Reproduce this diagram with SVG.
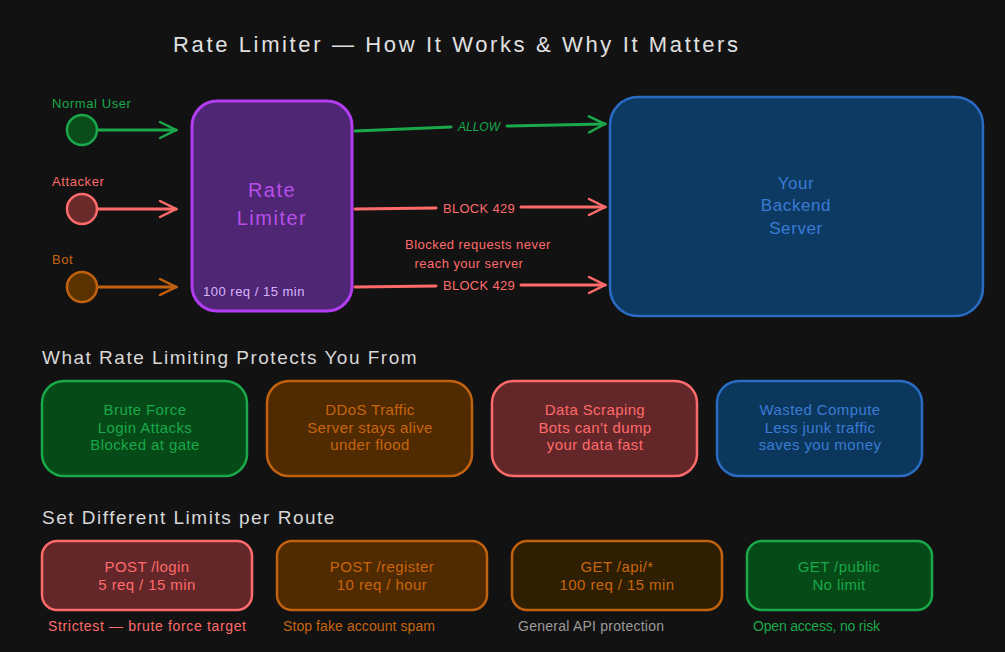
<svg xmlns="http://www.w3.org/2000/svg" width="1005" height="652" viewBox="0 0 1005 652">
<defs>
<style>
text{font-family:"Liberation Sans","DejaVu Sans",sans-serif;}
.t{font-size:15px;text-anchor:middle;letter-spacing:0.4px}
.g{fill:#1aa84a}.r{fill:#ff6b6b}.o{fill:#c8650f}.b{fill:#3a7bd5}.gr{fill:#9a9a9a}
.cg{fill:#054a17;stroke:#1aa84a;stroke-width:2.5}
.co{fill:#502a00;stroke:#c2620f;stroke-width:2.5}
.cr{fill:#632629;stroke:#ff6b6b;stroke-width:2.5}
.cb{fill:#0b375c;stroke:#2a6cc4;stroke-width:2.5}
.cy{fill:#2e1f02;stroke:#c2620f;stroke-width:2.5}
.ln{fill:none;stroke-width:3;stroke-linecap:round}
.hdr{font-size:19px;fill:#d8d8d8;letter-spacing:1.5px}
.cap{font-size:14px}
.lbl{font-size:13px;letter-spacing:0.6px}
</style>
<marker id="ag" viewBox="0 0 20 20" refX="18" refY="10" markerWidth="20" markerHeight="20" markerUnits="userSpaceOnUse" orient="auto"><path d="M2 2 L18 10 L2 18" fill="none" stroke="#1aa84a" stroke-width="2.5" stroke-linecap="round"/></marker>
<marker id="ar" viewBox="0 0 20 20" refX="18" refY="10" markerWidth="20" markerHeight="20" markerUnits="userSpaceOnUse" orient="auto"><path d="M2 2 L18 10 L2 18" fill="none" stroke="#ff6b6b" stroke-width="2.5" stroke-linecap="round"/></marker>
<marker id="ao" viewBox="0 0 20 20" refX="18" refY="10" markerWidth="20" markerHeight="20" markerUnits="userSpaceOnUse" orient="auto"><path d="M2 2 L18 10 L2 18" fill="none" stroke="#c2620f" stroke-width="2.5" stroke-linecap="round"/></marker>
</defs>
<rect width="1005" height="652" fill="#121212"/>
<text x="173" y="52" font-size="22" fill="#e0e0e0" textLength="565">Rate Limiter — How It Works &amp; Why It Matters</text>

<g id="connectors">
<line class="ln" x1="97" y1="130" x2="176" y2="130" stroke="#1aa84a" marker-end="url(#ag)"/>
<line class="ln" x1="97" y1="209" x2="176" y2="209" stroke="#ff6b6b" marker-end="url(#ar)"/>
<line class="ln" x1="97" y1="287" x2="176" y2="287" stroke="#c2620f" marker-end="url(#ao)"/>
<path class="ln" d="M355 131 L451 127 M507 126 L605 124" stroke="#1aa84a" marker-end="url(#ag)"/>
<text x="479" y="131" font-size="12" class="g" text-anchor="middle" font-style="italic">ALLOW</text>
<path class="ln" d="M355 209 L436 208 M521 207 L605 207" stroke="#ff6b6b" marker-end="url(#ar)"/>
<text x="479" y="213" font-size="13" class="r" text-anchor="middle" letter-spacing="0.3">BLOCK 429</text>
<path class="ln" d="M355 287 L436 286 M521 285 L605 285" stroke="#ff6b6b" marker-end="url(#ar)"/>
<text x="479" y="290" font-size="13" class="r" text-anchor="middle" letter-spacing="0.3">BLOCK 429</text>
<text x="478" y="249" font-size="13" class="r" text-anchor="middle" letter-spacing="0.45">Blocked requests never</text>
<text x="469" y="268" font-size="13" class="r" text-anchor="middle" letter-spacing="0.45">reach your server</text>
</g>

<g id="normal-user">
<text x="52" y="108" class="lbl g">Normal User</text>
<circle cx="82" cy="130" r="15" fill="#0b4d1a" stroke="#1aa84a" stroke-width="2.5"/>
</g>
<g id="attacker">
<text x="52" y="186" class="lbl r">Attacker</text>
<circle cx="82" cy="209" r="15" fill="#6b2a2a" stroke="#ff6b6b" stroke-width="2.5"/>
</g>
<g id="bot">
<text x="52" y="264" class="lbl o">Bot</text>
<circle cx="82" cy="287" r="15" fill="#5a3200" stroke="#c2620f" stroke-width="2.5"/>
</g>

<g id="rate-limiter">
<rect x="192" y="101" width="160" height="210" rx="25" fill="#4e2673" stroke="#b23cf0" stroke-width="3"/>
<text x="272" y="197" font-size="20" fill="#b84ee8" text-anchor="middle" letter-spacing="1.5">Rate</text>
<text x="272" y="225" font-size="20" fill="#b84ee8" text-anchor="middle" letter-spacing="1.5">Limiter</text>
<text x="203" y="296" font-size="13" fill="#d8b4fe" letter-spacing="0.5">100 req / 15 min</text>
</g>

<g id="backend">
<rect x="610" y="97" width="373" height="219" rx="28" fill="#0d3a63" stroke="#2a6cc4" stroke-width="2.5"/>
<text x="796" y="189" font-size="17" class="b" text-anchor="middle" letter-spacing="0.6">Your</text>
<text x="796" y="211" font-size="17" class="b" text-anchor="middle" letter-spacing="0.6">Backend</text>
<text x="796" y="234" font-size="17" class="b" text-anchor="middle" letter-spacing="0.6">Server</text>
</g>

<text x="42" y="364" class="hdr">What Rate Limiting Protects You From</text>

<g id="card-brute">
<rect x="42" y="381" width="205" height="95" rx="22" class="cg"/>
<text class="t g" x="145" y="415">Brute Force</text>
<text class="t g" x="145" y="433">Login Attacks</text>
<text class="t g" x="145" y="450">Blocked at gate</text>
</g>
<g id="card-ddos">
<rect x="267" y="381" width="205" height="95" rx="22" class="co"/>
<text class="t o" x="370" y="415">DDoS Traffic</text>
<text class="t o" x="370" y="433">Server stays alive</text>
<text class="t o" x="370" y="450">under flood</text>
</g>
<g id="card-scraping">
<rect x="492" y="381" width="205" height="95" rx="22" class="cr"/>
<text class="t r" x="595" y="415">Data Scraping</text>
<text class="t r" x="595" y="433">Bots can't dump</text>
<text class="t r" x="595" y="450">your data fast</text>
</g>
<g id="card-compute">
<rect x="717" y="381" width="205" height="95" rx="22" class="cb"/>
<text class="t b" x="820" y="415">Wasted Compute</text>
<text class="t b" x="820" y="433">Less junk traffic</text>
<text class="t b" x="820" y="450">saves you money</text>
</g>

<text x="42" y="524" class="hdr">Set Different Limits per Route</text>

<g id="route-login">
<rect x="42" y="541" width="210" height="69" rx="15" class="cr"/>
<text class="t r" x="147" y="572" letter-spacing="0.6">POST /login</text>
<text class="t r" x="147" y="590" letter-spacing="0.6">5 req / 15 min</text>
<text x="48" y="631" class="cap r" textLength="198">Strictest — brute force target</text>
</g>
<g id="route-register">
<rect x="277" y="541" width="210" height="69" rx="15" class="co"/>
<text class="t o" x="382" y="572" letter-spacing="0.6">POST /register</text>
<text class="t o" x="382" y="590" letter-spacing="0.6">10 req / hour</text>
<text x="283" y="631" class="cap o" textLength="152">Stop fake account spam</text>
</g>
<g id="route-api">
<rect x="512" y="541" width="210" height="69" rx="15" class="cy"/>
<text class="t o" x="617" y="572" letter-spacing="0.6">GET /api/*</text>
<text class="t o" x="617" y="590" letter-spacing="0.6">100 req / 15 min</text>
<text x="518" y="631" class="cap gr" textLength="146">General API protection</text>
</g>
<g id="route-public">
<rect x="747" y="541" width="185" height="69" rx="15" class="cg"/>
<text class="t g" x="839" y="572" letter-spacing="0.6">GET /public</text>
<text class="t g" x="839" y="590" letter-spacing="0.6">No limit</text>
<text x="753" y="631" class="cap g" textLength="127">Open access, no risk</text>
</g>
</svg>
